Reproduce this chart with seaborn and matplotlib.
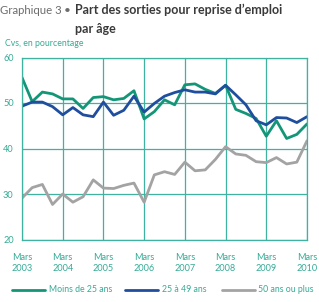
import numpy as np
import pandas as pd
import matplotlib
matplotlib.use("Agg")
import matplotlib.pyplot as plt
import seaborn as sns

quarters = [2003 + 0.25 * i for i in range(29)]
moins_25 = [55.6, 50.3, 52.4, 52.0, 50.9, 50.9, 48.8, 51.2, 51.4, 50.7, 51.0, 52.7,
            46.5, 48.1, 50.7, 49.6, 54.0, 54.2, 53.0, 52.1, 53.9, 48.6, 47.7, 46.6,
            42.7, 46.1, 42.2, 43.1, 45.4]
de_25_49 = [49.3, 50.2, 50.2, 49.2, 47.4, 49.0, 47.4, 47.0, 50.2, 47.3, 48.4, 51.5,
            48.0, 49.9, 51.5, 52.3, 52.9, 52.4, 52.4, 52.0, 53.9, 51.8, 49.6, 46.1,
            45.2, 46.8, 46.7, 45.7, 47.0]
plus_50 = [29.1, 31.4, 32.1, 27.7, 30.0, 28.2, 29.4, 33.1, 31.3, 31.2, 31.9, 32.4,
           28.2, 34.2, 34.9, 34.3, 37.0, 35.1, 35.3, 37.6, 40.4, 38.8, 38.5, 37.1,
           36.9, 38.0, 36.6, 37.0, 41.7]
series_names = ["Moins de 25 ans", "25 à 49 ans", "50 ans ou plus"]
xtick_labels = ["Mars\n2003", "Mars\n2004", "Mars\n2005", "Mars\n2006",
                "Mars\n2007", "Mars\n2008", "Mars\n2009", "Mars\n2010"]
yticks = [20, 30, 40, 50, 60]

df = pd.DataFrame({
    "x": quarters * 3,
    "v": moins_25 + de_25_49 + plus_50,
    "serie": sum([[n] * len(quarters) for n in series_names], []),
})

sns.set_style("white")
plt.rcParams["font.family"] = ["Lato", "DejaVu Sans"]

teal = "#3fb3a0"
txt_teal = "#35ab96"
palette = {"Moins de 25 ans": "#139677", "25 à 49 ans": "#1f4e9e", "50 ans ou plus": "#a3a3a3"}

fig = plt.figure(figsize=(3.19, 3.02), dpi=100)
W, H = 319, 302
ax = fig.add_axes([22 / W, 1 - 239.5 / H, (307 - 22) / W, (239.5 - 57.5) / H])

sns.lineplot(data=df, x="x", y="v", hue="serie", palette=palette, ax=ax,
             linewidth=2.0, legend=False)

ax.set_xlim(2003, 2010)
ax.set_ylim(20, 60)
ax.set_xticks(range(2003, 2011))
ax.set_xticklabels(xtick_labels, color=txt_teal, fontsize=6.6, linespacing=1.3)
ax.set_yticks(yticks)
ax.set_yticklabels([str(t) for t in yticks], color=txt_teal, fontsize=6.6)
ax.grid(True, color=teal, linewidth=0.9)
ax.set_axisbelow(True)
for s in ax.spines.values():
    s.set_color(teal)
    s.set_linewidth(0.9)
ax.tick_params(axis="x", length=3, color=teal, width=0.9, pad=7, direction="out")
ax.tick_params(axis="y", length=3, color=teal, width=0.9, pad=3, direction="out")
ax.set_xlabel("")
ax.set_ylabel("")

fig.text(0 / W, 1 - 10 / H, "Graphique 3", color="#6d6d6d", fontsize=8.2,
         va="center", ha="left")
fig.text(67 / W, 1 - 10 / H, "•", color="#6d6d6d", fontsize=8.6,
         va="center", ha="center")
fig.text(75 / W, 1 - 10 / H, "Part des sorties pour reprise d’emploi", color="#3a3a3a",
         fontsize=9, fontweight="bold", va="center", ha="left")
fig.text(75 / W, 1 - 29 / H, "par âge", color="#3a3a3a",
         fontsize=9, fontweight="bold", va="center", ha="left")
fig.text(5 / W, 1 - 43 / H, "Cvs, en pourcentage", color=txt_teal, fontsize=6.3,
         va="center", ha="left")

# legend drawn manually in figure coordinates
leg_y = 1 - 290 / H
for (x0, x1, xt), name in zip([(12, 45, 49), (125, 158, 162), (222, 255, 258)], series_names):
    fig.add_artist(plt.Line2D([x0 / W, x1 / W], [leg_y, leg_y], color=palette[name],
                              linewidth=2.0, transform=fig.transFigure))
    fig.text(xt / W, leg_y, name, color=txt_teal, fontsize=6.3, va="center", ha="left")

fig.savefig("out.png", dpi=100)
